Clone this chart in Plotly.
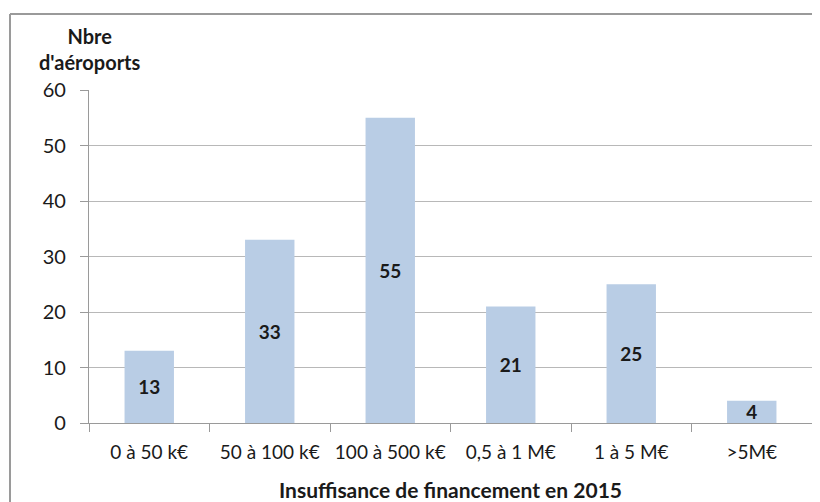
import plotly.graph_objects as go

categories = ["0 à 50 k€", "50 à 100 k€", "100 à 500 k€", "0,5 à 1 M€", "1 à 5 M€", ">5M€"]
values = [13, 33, 55, 21, 25, 4]
y_ticks = [0, 10, 20, 30, 40, 50, 60]

# page body has an 8px offset
OFF = 8
W, H = 820 - OFF, 502 - OFF
L, R, T, B = 89 - OFF, 8, 90 - OFF, 79
pw, ph = W - L - R, H - T - B

def px_x(sx):
    return (sx - OFF - L) / pw

def px_y(sy):
    return (H - B - (sy - OFF)) / ph

fig = go.Figure()
fig.add_trace(go.Bar(
    x=categories, y=values,
    marker=dict(color="#B9CDE5", line=dict(width=0)),
    width=0.41,
    text=[str(v) for v in values],
    textposition="inside",
    insidetextanchor="middle",
    textangle=0,
    constraintext="none",
    textfont=dict(family="Lato", size=19, color="#1a1a1a", weight="bold"),
    hoverinfo="skip",
))

fig.update_layout(
    width=W, height=H,
    margin=dict(l=L, r=R, t=T, b=B, pad=0),
    plot_bgcolor="white", paper_bgcolor="white",
    showlegend=False,
    font=dict(family="Lato", size=18, color="#1a1a1a"),
    xaxis=dict(
        type="category", automargin=False,
        showline=True, linecolor="#9a9a9a", linewidth=1.3,
        ticks="outside", tickson="boundaries", ticklen=8, tickcolor="#9a9a9a",
        tickfont=dict(size=19, family="Lato"), tickangle=0,
        ticklabelstandoff=12,
        title=dict(text="<b>Insuffisance de financement en 2015</b>", font=dict(size=21), standoff=22),
        showgrid=False,
    ),
    yaxis=dict(
        range=[0, 60], tickvals=y_ticks, automargin=False,
        showline=True, linecolor="#9a9a9a", linewidth=1.3,
        ticks="outside", ticklen=8, tickcolor="#9a9a9a",
        showgrid=True, gridcolor="#b8b8b8", gridwidth=1.2,
        zeroline=False,
        tickfont=dict(size=20, family="Lato"),
        ticklabelstandoff=10,
    ),
    annotations=[dict(
        text="<b>Nbre<br>d'aéroports</b>",
        xref="paper", yref="paper",
        x=px_x(90), y=px_y(49),
        xanchor="center", yanchor="middle",
        showarrow=False, font=dict(size=20, family="Lato"), align="center",
    )],
    shapes=[
        dict(type="line", xref="paper", yref="paper",
             x0=px_x(10), x1=px_x(840),
             y0=px_y(14), y1=px_y(14),
             line=dict(color="#9a9a9a", width=2)),
        dict(type="line", xref="paper", yref="paper",
             x0=px_x(10), x1=px_x(10),
             y0=px_y(14), y1=px_y(540),
             line=dict(color="#9a9a9a", width=2)),
    ],
)

fig.write_html("out.html")
